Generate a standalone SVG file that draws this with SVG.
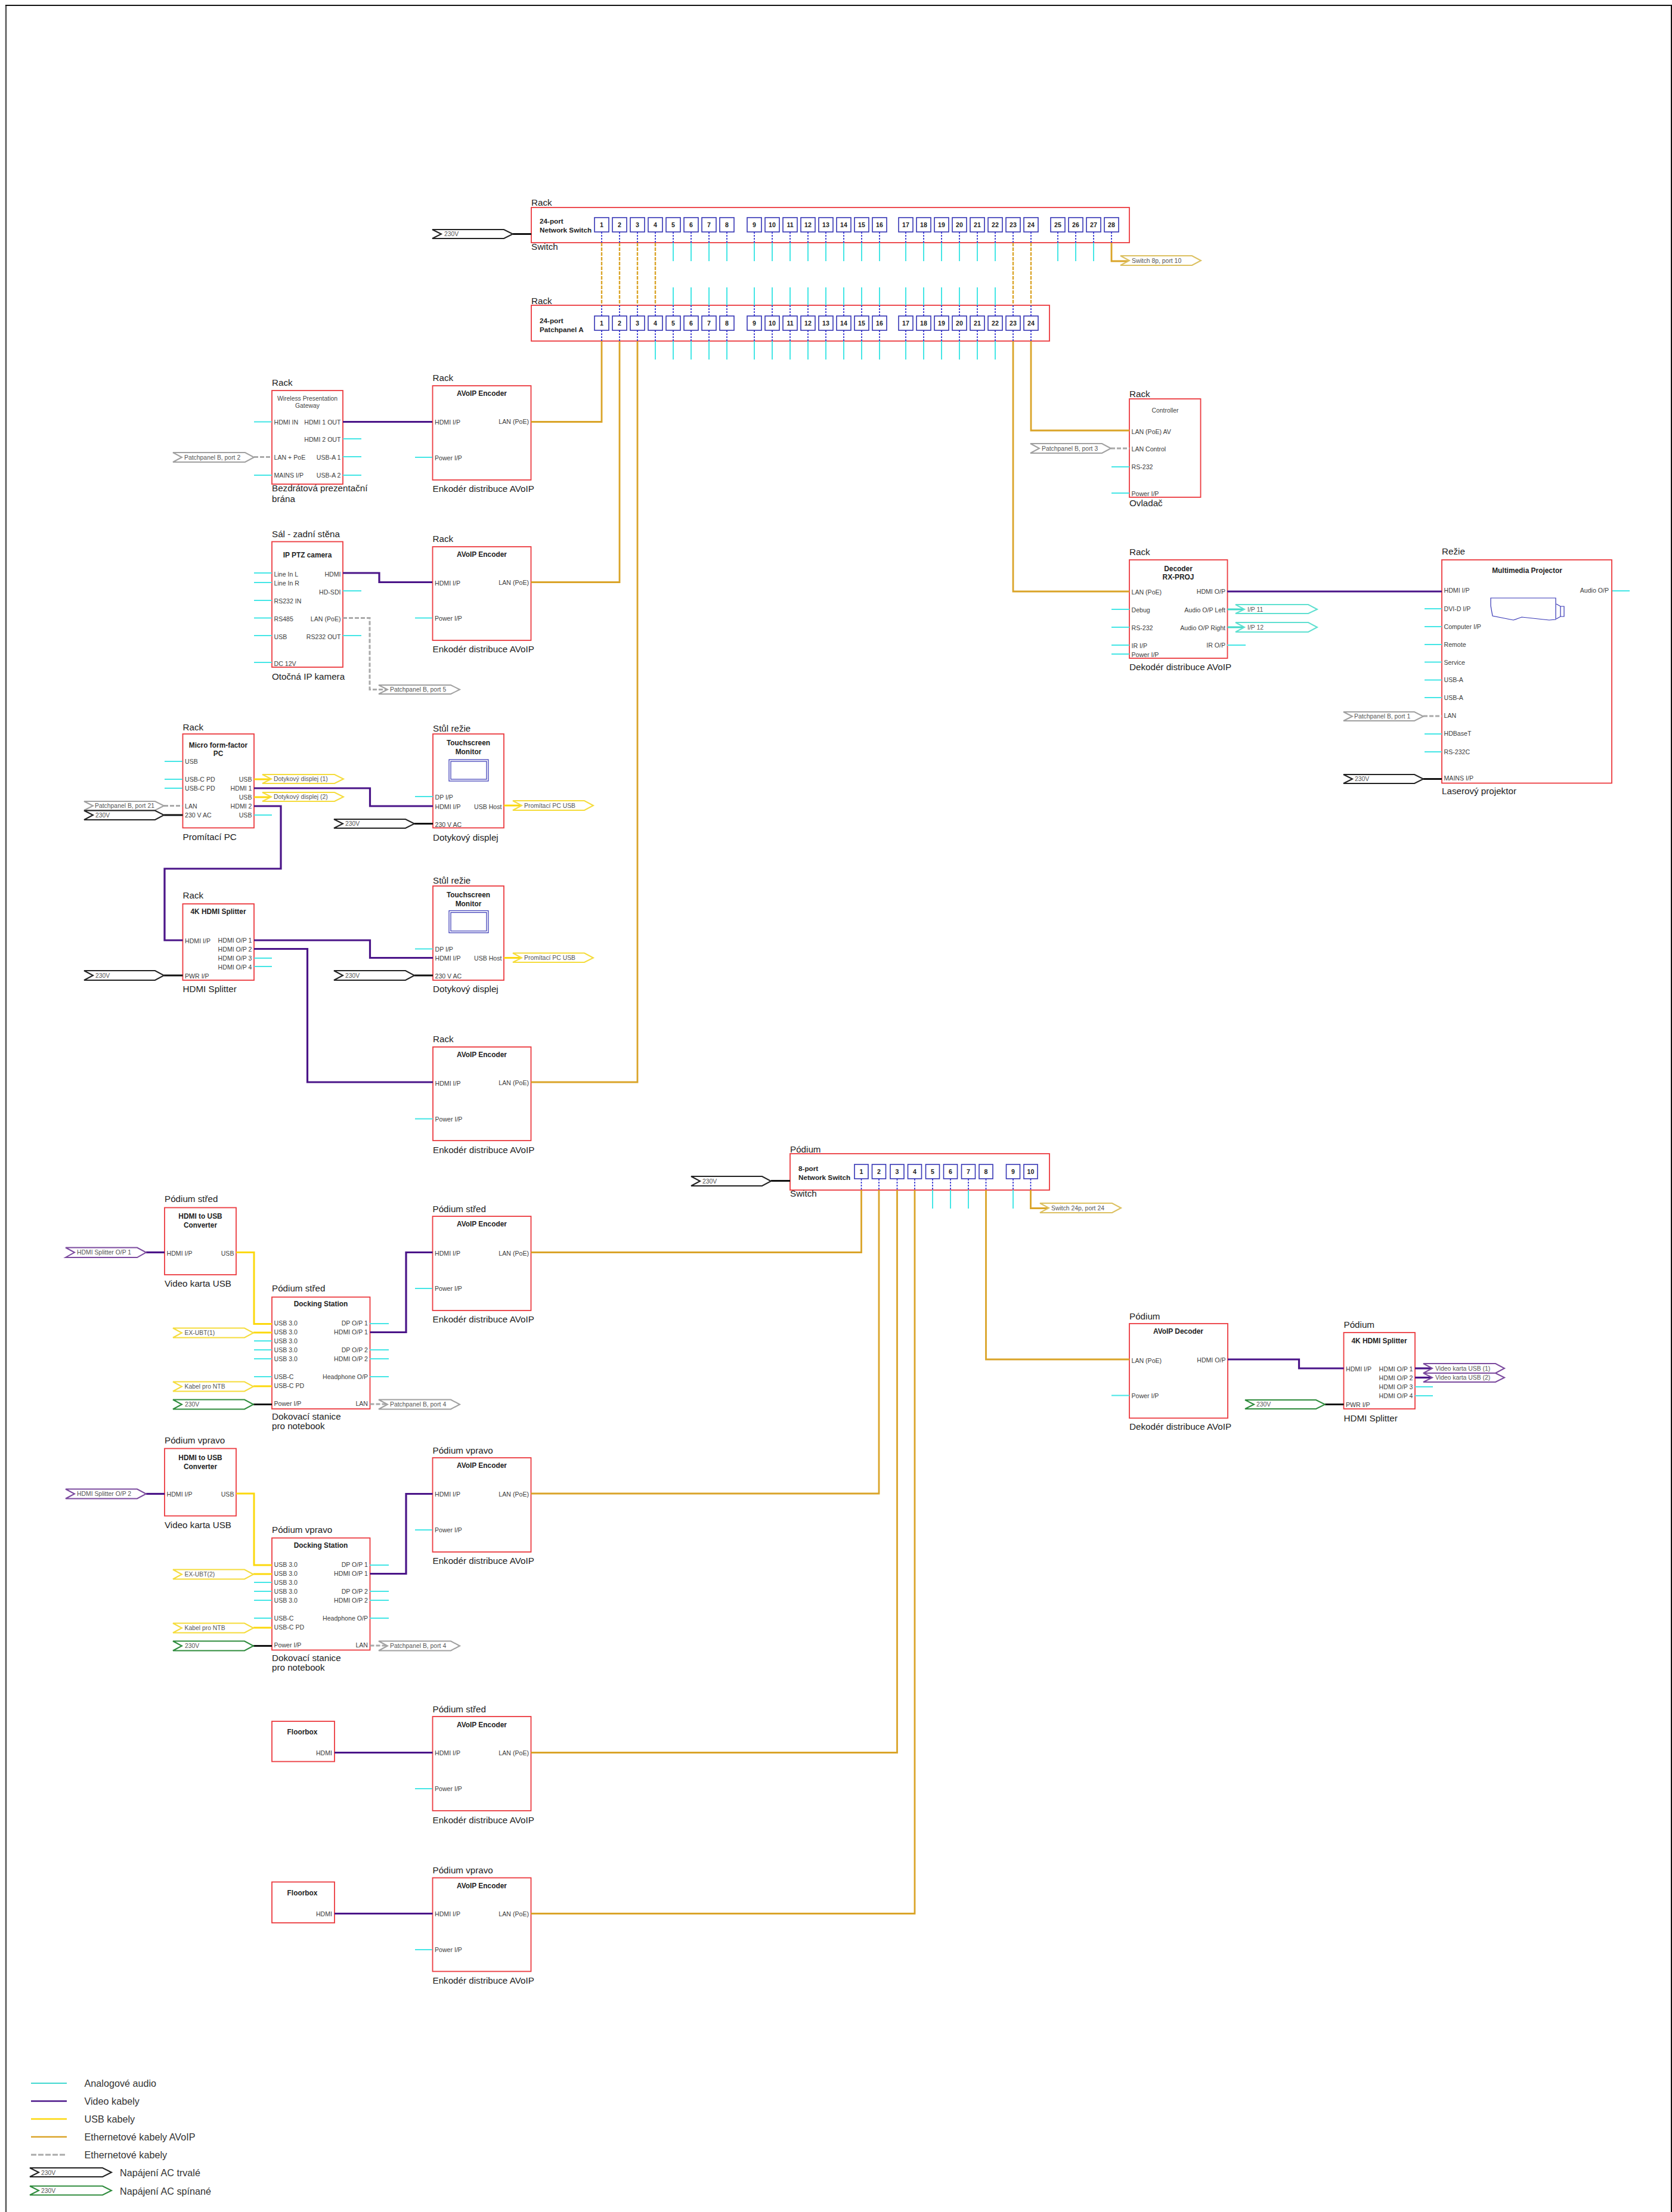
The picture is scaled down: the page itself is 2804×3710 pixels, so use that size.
<svg xmlns="http://www.w3.org/2000/svg" width="2804" height="3710" viewBox="0 0 2804 3710">
<style>
text{font-family:"Liberation Sans",Arial,sans-serif;dominant-baseline:central;fill:#3c3c3c;font-size:10.6px}
.e{text-anchor:end}
.lb{font-size:15.2px;fill:#222}
.lg{font-size:16.2px;fill:#333}
.t{font-size:11.9px;font-weight:bold;text-anchor:middle;fill:#222}
.tn{font-size:10.4px;text-anchor:middle;fill:#444}
.tl{font-size:11.7px;font-weight:bold;fill:#222}
.pn{font-size:10.6px;font-weight:bold;text-anchor:middle;fill:#222}
.pt{font-size:10.4px;fill:#555}
.b{fill:#fff;stroke:#ec3a3f;stroke-width:1.8}
.p{fill:#fff;stroke:#3535b5;stroke-width:1.6}
.ic{fill:none;stroke:#3535b5;stroke-width:1.2}
.pb{fill:#fff;stroke:#222;stroke-width:2}
.pg{fill:#fff;stroke:#2e8b3c;stroke-width:2}
.py{fill:#fff;stroke:#f5dc3c;stroke-width:2}
.pa{fill:#fff;stroke:#a0a0a0;stroke-width:2}
.pv{fill:#fff;stroke:#7b4a9e;stroke-width:2}
.po{fill:#fff;stroke:#dcc060;stroke-width:2}
.pc{fill:#fff;stroke:#5fe0d0;stroke-width:2}
path{fill:none}
.cy{stroke:#45e6e6;stroke-width:2}
.cyt{stroke:#40d8c8;stroke-width:3}
.vi{stroke:#4a1488;stroke-width:3.2}
.us{stroke:#fcd80c;stroke-width:3}
.or{stroke:#daa428;stroke-width:2.8}
.ord{stroke:#daa428;stroke-width:2.4;stroke-dasharray:6 2}
.gr{stroke:#aaa;stroke-width:3;stroke-dasharray:7 3}
.bk{stroke:#111;stroke-width:3}
.bd{stroke:#2222cc;stroke-width:1.6;stroke-dasharray:3 2}
</style>
<g id="frame">
<path d="M10 9V3710" stroke="#555" stroke-width="2.5"/>
<path d="M9 9H2803V3710" stroke="#111" stroke-width="2"/>
</g>

<g id="switch24">
<rect class="b" x="891" y="348" width="1003" height="59"/>
<text class="lb" x="891" y="339">Rack</text>
<text class="lb" x="891" y="413">Switch</text>
<text class="tl" x="905" y="370">24-port</text>
<text class="tl" x="905" y="385">Network Switch</text>
<rect class="p" x="997" y="365" width="24" height="24"/><text class="pn" x="1009" y="377">1</text>
<rect class="p" x="1027" y="365" width="24" height="24"/><text class="pn" x="1039" y="377">2</text>
<rect class="p" x="1057" y="365" width="24" height="24"/><text class="pn" x="1069" y="377">3</text>
<rect class="p" x="1087" y="365" width="24" height="24"/><text class="pn" x="1099" y="377">4</text>
<rect class="p" x="1117" y="365" width="24" height="24"/><text class="pn" x="1129" y="377">5</text>
<rect class="p" x="1147" y="365" width="24" height="24"/><text class="pn" x="1159" y="377">6</text>
<rect class="p" x="1177" y="365" width="24" height="24"/><text class="pn" x="1189" y="377">7</text>
<rect class="p" x="1207" y="365" width="24" height="24"/><text class="pn" x="1219" y="377">8</text>
<rect class="p" x="1253" y="365" width="24" height="24"/><text class="pn" x="1265" y="377">9</text>
<rect class="p" x="1283" y="365" width="24" height="24"/><text class="pn" x="1295" y="377">10</text>
<rect class="p" x="1313" y="365" width="24" height="24"/><text class="pn" x="1325" y="377">11</text>
<rect class="p" x="1343" y="365" width="24" height="24"/><text class="pn" x="1355" y="377">12</text>
<rect class="p" x="1373" y="365" width="24" height="24"/><text class="pn" x="1385" y="377">13</text>
<rect class="p" x="1403" y="365" width="24" height="24"/><text class="pn" x="1415" y="377">14</text>
<rect class="p" x="1433" y="365" width="24" height="24"/><text class="pn" x="1445" y="377">15</text>
<rect class="p" x="1463" y="365" width="24" height="24"/><text class="pn" x="1475" y="377">16</text>
<rect class="p" x="1507" y="365" width="24" height="24"/><text class="pn" x="1519" y="377">17</text>
<rect class="p" x="1537" y="365" width="24" height="24"/><text class="pn" x="1549" y="377">18</text>
<rect class="p" x="1567" y="365" width="24" height="24"/><text class="pn" x="1579" y="377">19</text>
<rect class="p" x="1597" y="365" width="24" height="24"/><text class="pn" x="1609" y="377">20</text>
<rect class="p" x="1627" y="365" width="24" height="24"/><text class="pn" x="1639" y="377">21</text>
<rect class="p" x="1657" y="365" width="24" height="24"/><text class="pn" x="1669" y="377">22</text>
<rect class="p" x="1687" y="365" width="24" height="24"/><text class="pn" x="1699" y="377">23</text>
<rect class="p" x="1717" y="365" width="24" height="24"/><text class="pn" x="1729" y="377">24</text>
<rect class="p" x="1762" y="365" width="24" height="24"/><text class="pn" x="1774" y="377">25</text>
<rect class="p" x="1792" y="365" width="24" height="24"/><text class="pn" x="1804" y="377">26</text>
<rect class="p" x="1822" y="365" width="24" height="24"/><text class="pn" x="1834" y="377">27</text>
<rect class="p" x="1852" y="365" width="24" height="24"/><text class="pn" x="1864" y="377">28</text>
</g>

<g id="patchpanelA">
<rect class="b" x="891" y="512" width="869" height="60"/>
<text class="lb" x="891" y="504">Rack</text>
<text class="tl" x="905" y="537">24-port</text>
<text class="tl" x="905" y="552">Patchpanel A</text>
<rect class="p" x="997" y="530" width="24" height="24"/><text class="pn" x="1009" y="542">1</text>
<rect class="p" x="1027" y="530" width="24" height="24"/><text class="pn" x="1039" y="542">2</text>
<rect class="p" x="1057" y="530" width="24" height="24"/><text class="pn" x="1069" y="542">3</text>
<rect class="p" x="1087" y="530" width="24" height="24"/><text class="pn" x="1099" y="542">4</text>
<rect class="p" x="1117" y="530" width="24" height="24"/><text class="pn" x="1129" y="542">5</text>
<rect class="p" x="1147" y="530" width="24" height="24"/><text class="pn" x="1159" y="542">6</text>
<rect class="p" x="1177" y="530" width="24" height="24"/><text class="pn" x="1189" y="542">7</text>
<rect class="p" x="1207" y="530" width="24" height="24"/><text class="pn" x="1219" y="542">8</text>
<rect class="p" x="1253" y="530" width="24" height="24"/><text class="pn" x="1265" y="542">9</text>
<rect class="p" x="1283" y="530" width="24" height="24"/><text class="pn" x="1295" y="542">10</text>
<rect class="p" x="1313" y="530" width="24" height="24"/><text class="pn" x="1325" y="542">11</text>
<rect class="p" x="1343" y="530" width="24" height="24"/><text class="pn" x="1355" y="542">12</text>
<rect class="p" x="1373" y="530" width="24" height="24"/><text class="pn" x="1385" y="542">13</text>
<rect class="p" x="1403" y="530" width="24" height="24"/><text class="pn" x="1415" y="542">14</text>
<rect class="p" x="1433" y="530" width="24" height="24"/><text class="pn" x="1445" y="542">15</text>
<rect class="p" x="1463" y="530" width="24" height="24"/><text class="pn" x="1475" y="542">16</text>
<rect class="p" x="1507" y="530" width="24" height="24"/><text class="pn" x="1519" y="542">17</text>
<rect class="p" x="1537" y="530" width="24" height="24"/><text class="pn" x="1549" y="542">18</text>
<rect class="p" x="1567" y="530" width="24" height="24"/><text class="pn" x="1579" y="542">19</text>
<rect class="p" x="1597" y="530" width="24" height="24"/><text class="pn" x="1609" y="542">20</text>
<rect class="p" x="1627" y="530" width="24" height="24"/><text class="pn" x="1639" y="542">21</text>
<rect class="p" x="1657" y="530" width="24" height="24"/><text class="pn" x="1669" y="542">22</text>
<rect class="p" x="1687" y="530" width="24" height="24"/><text class="pn" x="1699" y="542">23</text>
<rect class="p" x="1717" y="530" width="24" height="24"/><text class="pn" x="1729" y="542">24</text>
</g>

<g id="gateway">
<rect class="b" x="456" y="655" width="119" height="157"/>
<text class="lb" x="456" y="641">Rack</text>
<text class="tn" x="515.5" y="668">Wireless Presentation</text>
<text class="tn" x="515.5" y="680">Gateway</text>
<text x="459.5" y="708">HDMI IN</text>
<text x="459.5" y="767">LAN + PoE</text>
<text x="459.5" y="797">MAINS I/P</text>
<text class="e" x="571.5" y="708">HDMI 1 OUT</text>
<text class="e" x="571.5" y="737">HDMI 2 OUT</text>
<text class="e" x="571.5" y="767">USB-A 1</text>
<text class="e" x="571.5" y="797">USB-A 2</text>
<text class="lb" x="456" y="818">Bezdrátová prezentační</text>
<text class="lb" x="456" y="836">brána</text>
</g>

<g id="encoder1">
<rect class="b" x="725.5" y="647" width="165" height="158"/>
<text class="lb" x="725.5" y="633">Rack</text>
<text class="t" x="808" y="660">AVoIP Encoder</text>
<text x="729" y="708">HDMI I/P</text>
<text x="729" y="768">Power I/P</text>
<text class="e" x="887" y="707">LAN (PoE)</text>
<text class="lb" x="725.5" y="819">Enkodér distribuce AVoIP</text>
</g>

<g id="camera">
<rect class="b" x="456" y="908.5" width="119" height="210.5"/>
<text class="lb" x="456" y="895">Sál - zadní stěna</text>
<text class="t" x="515.5" y="931">IP PTZ camera</text>
<text x="459.5" y="963">Line In L</text>
<text x="459.5" y="978">Line In R</text>
<text x="459.5" y="1008">RS232 IN</text>
<text x="459.5" y="1038">RS485</text>
<text x="459.5" y="1068">USB</text>
<text x="459.5" y="1113">DC 12V</text>
<text class="e" x="571.5" y="963">HDMI</text>
<text class="e" x="571.5" y="993">HD-SDI</text>
<text class="e" x="571.5" y="1038">LAN (PoE)</text>
<text class="e" x="571.5" y="1068">RS232 OUT</text>
<text class="lb" x="456" y="1134">Otočná IP kamera</text>
</g>

<g id="encoder2">
<rect class="b" x="725.5" y="917" width="165" height="157"/>
<text class="lb" x="725.5" y="903">Rack</text>
<text class="t" x="808" y="930">AVoIP Encoder</text>
<text x="729" y="978">HDMI I/P</text>
<text x="729" y="1037">Power I/P</text>
<text class="e" x="887" y="977">LAN (PoE)</text>
<text class="lb" x="725.5" y="1088">Enkodér distribuce AVoIP</text>
</g>

<g id="pc">
<rect class="b" x="306.5" y="1231" width="119.5" height="157.5"/>
<text class="lb" x="306.5" y="1219">Rack</text>
<text class="t" x="366" y="1250">Micro form-factor</text>
<text class="t" x="366" y="1264">PC</text>
<text x="310" y="1277">USB</text>
<text x="310" y="1307">USB-C PD</text>
<text x="310" y="1322">USB-C PD</text>
<text x="310" y="1352">LAN</text>
<text x="310" y="1367">230 V AC</text>
<text class="e" x="422.5" y="1307">USB</text>
<text class="e" x="422.5" y="1322">HDMI 1</text>
<text class="e" x="422.5" y="1337">USB</text>
<text class="e" x="422.5" y="1352">HDMI 2</text>
<text class="e" x="422.5" y="1367">USB</text>
<text class="lb" x="306.5" y="1403">Promítací PC</text>
</g>

<g id="monitor1">
<rect class="b" x="726" y="1231" width="119" height="157.5"/>
<text class="lb" x="726" y="1221">Stůl režie</text>
<text class="t" x="785.5" y="1246">Touchscreen</text>
<text class="t" x="785.5" y="1261">Monitor</text>
<rect class="ic" x="753" y="1274" width="66" height="36"/>
<rect class="ic" x="756" y="1277" width="60" height="30"/>
<text x="729.5" y="1337">DP I/P</text>
<text x="729.5" y="1353">HDMI I/P</text>
<text x="729.5" y="1383">230 V AC</text>
<text class="e" x="841.5" y="1353">USB Host</text>
<text class="lb" x="726" y="1404">Dotykový displej</text>
</g>

<g id="splitter1">
<rect class="b" x="306.5" y="1516" width="119.5" height="128"/>
<text class="lb" x="306.5" y="1501">Rack</text>
<text class="t" x="366" y="1529">4K HDMI Splitter</text>
<text x="310" y="1578">HDMI I/P</text>
<text x="310" y="1637">PWR I/P</text>
<text class="e" x="422.5" y="1577">HDMI O/P 1</text>
<text class="e" x="422.5" y="1592">HDMI O/P 2</text>
<text class="e" x="422.5" y="1607">HDMI O/P 3</text>
<text class="e" x="422.5" y="1622">HDMI O/P 4</text>
<text class="lb" x="306.5" y="1658">HDMI Splitter</text>
</g>

<g id="monitor2">
<rect class="b" x="726" y="1486" width="119" height="158"/>
<text class="lb" x="726" y="1476">Stůl režie</text>
<text class="t" x="785.5" y="1500.5">Touchscreen</text>
<text class="t" x="785.5" y="1515.5">Monitor</text>
<rect class="ic" x="753" y="1527.5" width="66" height="37"/>
<rect class="ic" x="756" y="1530.5" width="60" height="31"/>
<text x="729.5" y="1592">DP I/P</text>
<text x="729.5" y="1607">HDMI I/P</text>
<text x="729.5" y="1637">230 V AC</text>
<text class="e" x="841.5" y="1607">USB Host</text>
<text class="lb" x="726" y="1658">Dotykový displej</text>
</g>

<g id="encoder3">
<rect class="b" x="726" y="1756" width="164.5" height="157"/>
<text class="lb" x="726" y="1742">Rack</text>
<text class="t" x="808" y="1769">AVoIP Encoder</text>
<text x="729.5" y="1817">HDMI I/P</text>
<text x="729.5" y="1877">Power I/P</text>
<text class="e" x="887" y="1816">LAN (PoE)</text>
<text class="lb" x="726" y="1928">Enkodér distribuce AVoIP</text>
</g>

<g id="controller">
<rect class="b" x="1894" y="669" width="119.5" height="165"/>
<text class="lb" x="1894" y="660">Rack</text>
<text class="tn" x="1954" y="688">Controller</text>
<text x="1897.5" y="724">LAN (PoE) AV</text>
<text x="1897.5" y="753">LAN Control</text>
<text x="1897.5" y="783">RS-232</text>
<text x="1897.5" y="828">Power I/P</text>
<text class="lb" x="1894" y="843">Ovladač</text>
</g>

<g id="decoder">
<rect class="b" x="1894" y="939" width="164.5" height="165"/>
<text class="lb" x="1894" y="925">Rack</text>
<text class="t" x="1976" y="954">Decoder</text>
<text class="t" x="1976" y="968">RX-PROJ</text>
<text x="1897.5" y="993">LAN (PoE)</text>
<text x="1897.5" y="1023">Debug</text>
<text x="1897.5" y="1053">RS-232</text>
<text x="1897.5" y="1083">IR I/P</text>
<text x="1897.5" y="1098">Power I/P</text>
<text class="e" x="2055" y="992">HDMI O/P</text>
<text class="e" x="2055" y="1023">Audio O/P Left</text>
<text class="e" x="2055" y="1053">Audio O/P Right</text>
<text class="e" x="2055" y="1082">IR O/P</text>
<text class="lb" x="1894" y="1118">Dekodér distribuce AVoIP</text>
</g>

<g id="projector">
<rect class="b" x="2418" y="939" width="285" height="374.5"/>
<text class="lb" x="2418" y="924">Režie</text>
<text class="t" x="2561" y="957">Multimedia Projector</text>
<path class="ic" d="M2500 1003H2609V1039L2598 1040L2552 1035L2538 1040L2503 1033L2500 1016Z"/>
<path class="ic" d="M2610 1013L2617 1017H2623V1034H2617L2610 1038M2617 1017V1034"/>
<text x="2421.5" y="990">HDMI I/P</text>
<text x="2421.5" y="1021">DVI-D I/P</text>
<text x="2421.5" y="1051">Computer I/P</text>
<text x="2421.5" y="1081">Remote</text>
<text x="2421.5" y="1111">Service</text>
<text x="2421.5" y="1140">USB-A</text>
<text x="2421.5" y="1170">USB-A</text>
<text x="2421.5" y="1200">LAN</text>
<text x="2421.5" y="1230">HDBaseT</text>
<text x="2421.5" y="1261">RS-232C</text>
<text x="2421.5" y="1305">MAINS I/P</text>
<text class="e" x="2698" y="990">Audio O/P</text>
<text class="lb" x="2418" y="1326">Laserový projektor</text>
</g>

<g id="switch8">
<rect class="b" x="1325" y="1935" width="435" height="61"/>
<text class="lb" x="1325" y="1927">Pódium</text>
<text class="lb" x="1325" y="2001">Switch</text>
<text class="tl" x="1339" y="1959">8-port</text>
<text class="tl" x="1339" y="1974">Network Switch</text>
<rect class="p" x="1433" y="1953" width="23" height="24"/><text class="pn" x="1444.5" y="1965">1</text>
<rect class="p" x="1462.5" y="1953" width="23" height="24"/><text class="pn" x="1474" y="1965">2</text>
<rect class="p" x="1493" y="1953" width="23" height="24"/><text class="pn" x="1504.5" y="1965">3</text>
<rect class="p" x="1522.5" y="1953" width="23" height="24"/><text class="pn" x="1534" y="1965">4</text>
<rect class="p" x="1552.5" y="1953" width="23" height="24"/><text class="pn" x="1564" y="1965">5</text>
<rect class="p" x="1582.5" y="1953" width="23" height="24"/><text class="pn" x="1594" y="1965">6</text>
<rect class="p" x="1612.5" y="1953" width="23" height="24"/><text class="pn" x="1624" y="1965">7</text>
<rect class="p" x="1642" y="1953" width="23" height="24"/><text class="pn" x="1653.5" y="1965">8</text>
<rect class="p" x="1687.5" y="1953" width="23" height="24"/><text class="pn" x="1699" y="1965">9</text>
<rect class="p" x="1717" y="1953" width="23" height="24"/><text class="pn" x="1728.5" y="1965">10</text>
</g>

<g id="decoderPodium">
<rect class="b" x="1894" y="2220" width="165" height="158.5"/>
<text class="lb" x="1894" y="2207">Pódium</text>
<text class="t" x="1976" y="2233">AVoIP Decoder</text>
<text x="1897.5" y="2282">LAN (PoE)</text>
<text x="1897.5" y="2341">Power I/P</text>
<text class="e" x="2055.5" y="2281">HDMI O/P</text>
<text class="lb" x="1894" y="2392">Dekodér distribuce AVoIP</text>
</g>

<g id="splitterPodium">
<rect class="b" x="2253.5" y="2235" width="119.5" height="128"/>
<text class="lb" x="2253.5" y="2221">Pódium</text>
<text class="t" x="2313" y="2249">4K HDMI Splitter</text>
<text x="2257" y="2296">HDMI I/P</text>
<text x="2257" y="2356">PWR I/P</text>
<text class="e" x="2369.5" y="2296">HDMI O/P 1</text>
<text class="e" x="2369.5" y="2311">HDMI O/P 2</text>
<text class="e" x="2369.5" y="2326">HDMI O/P 3</text>
<text class="e" x="2369.5" y="2341">HDMI O/P 4</text>
<text class="lb" x="2253.5" y="2378">HDMI Splitter</text>
</g>

<g id="converter1">
<rect class="b" x="276" y="2025.5" width="120" height="112.5"/>
<text class="lb" x="276" y="2010">Pódium střed</text>
<text class="t" x="336" y="2040">HDMI to USB</text>
<text class="t" x="336" y="2055">Converter</text>
<text x="279.5" y="2102">HDMI I/P</text>
<text class="e" x="392.5" y="2102">USB</text>
<text class="lb" x="276" y="2152">Video karta USB</text>
</g>

<g id="dock1">
<rect class="b" x="456" y="2175.5" width="164.5" height="187.5"/>
<text class="lb" x="456" y="2160">Pódium střed</text>
<text class="t" x="538" y="2187">Docking Station</text>
<text x="459.5" y="2219">USB 3.0</text>
<text x="459.5" y="2234">USB 3.0</text>
<text x="459.5" y="2249">USB 3.0</text>
<text x="459.5" y="2264">USB 3.0</text>
<text x="459.5" y="2279">USB 3.0</text>
<text x="459.5" y="2309">USB-C</text>
<text x="459.5" y="2324">USB-C PD</text>
<text x="459.5" y="2354">Power I/P</text>
<text class="e" x="617" y="2219">DP O/P 1</text>
<text class="e" x="617" y="2234">HDMI O/P 1</text>
<text class="e" x="617" y="2264">DP O/P 2</text>
<text class="e" x="617" y="2279">HDMI O/P 2</text>
<text class="e" x="617" y="2309">Headphone O/P</text>
<text class="e" x="617" y="2354">LAN</text>
<text class="lb" x="456" y="2375">Dokovací stanice</text>
<text class="lb" x="456" y="2391">pro notebook</text>
</g>

<g id="encoder4">
<rect class="b" x="725.5" y="2040" width="165" height="158"/>
<text class="lb" x="725.5" y="2027">Pódium střed</text>
<text class="t" x="808" y="2053">AVoIP Encoder</text>
<text x="729" y="2102">HDMI I/P</text>
<text x="729" y="2161">Power I/P</text>
<text class="e" x="887" y="2102">LAN (PoE)</text>
<text class="lb" x="725.5" y="2212">Enkodér distribuce AVoIP</text>
</g>

<g id="converter2">
<rect class="b" x="276" y="2429.5" width="120" height="113"/>
<text class="lb" x="276" y="2415">Pódium vpravo</text>
<text class="t" x="336" y="2445">HDMI to USB</text>
<text class="t" x="336" y="2460">Converter</text>
<text x="279.5" y="2506">HDMI I/P</text>
<text class="e" x="392.5" y="2506">USB</text>
<text class="lb" x="276" y="2557">Video karta USB</text>
</g>

<g id="dock2">
<rect class="b" x="456" y="2579.5" width="164.5" height="188"/>
<text class="lb" x="456" y="2565">Pódium vpravo</text>
<text class="t" x="538" y="2592">Docking Station</text>
<text x="459.5" y="2624">USB 3.0</text>
<text x="459.5" y="2639">USB 3.0</text>
<text x="459.5" y="2654">USB 3.0</text>
<text x="459.5" y="2669">USB 3.0</text>
<text x="459.5" y="2684">USB 3.0</text>
<text x="459.5" y="2714">USB-C</text>
<text x="459.5" y="2729">USB-C PD</text>
<text x="459.5" y="2759">Power I/P</text>
<text class="e" x="617" y="2624">DP O/P 1</text>
<text class="e" x="617" y="2639">HDMI O/P 1</text>
<text class="e" x="617" y="2669">DP O/P 2</text>
<text class="e" x="617" y="2684">HDMI O/P 2</text>
<text class="e" x="617" y="2714">Headphone O/P</text>
<text class="e" x="617" y="2759">LAN</text>
<text class="lb" x="456" y="2780">Dokovací stanice</text>
<text class="lb" x="456" y="2796">pro notebook</text>
</g>

<g id="encoder5">
<rect class="b" x="725.5" y="2445" width="165" height="158"/>
<text class="lb" x="725.5" y="2432">Pódium vpravo</text>
<text class="t" x="808" y="2458">AVoIP Encoder</text>
<text x="729" y="2506">HDMI I/P</text>
<text x="729" y="2566">Power I/P</text>
<text class="e" x="887" y="2506">LAN (PoE)</text>
<text class="lb" x="725.5" y="2617">Enkodér distribuce AVoIP</text>
</g>

<g id="floorbox1">
<rect class="b" x="456" y="2887" width="105" height="67.5"/>
<text class="t" x="507" y="2905">Floorbox</text>
<text class="e" x="557" y="2940">HDMI</text>
</g>

<g id="encoder6">
<rect class="b" x="725.5" y="2879" width="165" height="158"/>
<text class="lb" x="725.5" y="2866">Pódium střed</text>
<text class="t" x="808" y="2893">AVoIP Encoder</text>
<text x="729" y="2940">HDMI I/P</text>
<text x="729" y="3000">Power I/P</text>
<text class="e" x="887" y="2940">LAN (PoE)</text>
<text class="lb" x="725.5" y="3052">Enkodér distribuce AVoIP</text>
</g>

<g id="floorbox2">
<rect class="b" x="456" y="3156.5" width="105" height="68.5"/>
<text class="t" x="507" y="3175">Floorbox</text>
<text class="e" x="557" y="3210">HDMI</text>
</g>

<g id="encoder7">
<rect class="b" x="725.5" y="3149.5" width="165" height="157"/>
<text class="lb" x="725.5" y="3136">Pódium vpravo</text>
<text class="t" x="808" y="3163">AVoIP Encoder</text>
<text x="729" y="3210">HDMI I/P</text>
<text x="729" y="3270">Power I/P</text>
<text class="e" x="887" y="3210">LAN (PoE)</text>
<text class="lb" x="725.5" y="3321">Enkodér distribuce AVoIP</text>
</g>

<g id="connectors">
<path class="bd" d="M1009 389V407M1039 389V407M1069 389V407M1099 389V407M1129 389V407M1159 389V407M1189 389V407M1219 389V407M1265 389V407M1295 389V407M1325 389V407M1355 389V407M1385 389V407M1415 389V407M1445 389V407M1475 389V407M1519 389V407M1549 389V407M1579 389V407M1609 389V407M1639 389V407M1669 389V407M1699 389V407M1729 389V407M1774 389V407M1804 389V407M1834 389V407M1864 389V407"/>
<path class="bd" d="M1009 512V530M1039 512V530M1069 512V530M1099 512V530M1129 512V530M1159 512V530M1189 512V530M1219 512V530M1265 512V530M1295 512V530M1325 512V530M1355 512V530M1385 512V530M1415 512V530M1445 512V530M1475 512V530M1519 512V530M1549 512V530M1579 512V530M1609 512V530M1639 512V530M1669 512V530M1699 512V530M1729 512V530"/>
<path class="bd" d="M1009 554V572M1039 554V572M1069 554V572M1099 554V572M1129 554V572M1159 554V572M1189 554V572M1219 554V572M1265 554V572M1295 554V572M1325 554V572M1355 554V572M1385 554V572M1415 554V572M1445 554V572M1475 554V572M1519 554V572M1549 554V572M1579 554V572M1609 554V572M1639 554V572M1669 554V572M1699 554V572M1729 554V572"/>
<path class="bd" d="M1444.5 1977V1996M1474 1977V1996M1504.5 1977V1996M1534 1977V1996M1564 1977V1996M1594 1977V1996M1624 1977V1996M1653.5 1977V1996M1699 1977V1996M1728.5 1977V1996"/>
<path class="cy" d="M1129 407V438M1159 407V438M1189 407V438M1219 407V438M1265 407V438M1295 407V438M1325 407V438M1355 407V438M1385 407V438M1415 407V438M1445 407V438M1475 407V438M1519 407V438M1549 407V438M1579 407V438M1609 407V438M1639 407V438M1669 407V438M1774 407V438M1804 407V438M1834 407V438"/>
<path class="cy" d="M1129 482V512M1159 482V512M1189 482V512M1219 482V512M1265 482V512M1295 482V512M1325 482V512M1355 482V512M1385 482V512M1415 482V512M1445 482V512M1475 482V512M1519 482V512M1549 482V512M1579 482V512M1609 482V512M1639 482V512M1669 482V512"/>
<path class="cy" d="M1099 572V603M1129 572V603M1159 572V603M1189 572V603M1219 572V603M1265 572V603M1295 572V603M1325 572V603M1355 572V603M1385 572V603M1415 572V603M1445 572V603M1475 572V603M1519 572V603M1549 572V603M1579 572V603M1609 572V603M1639 572V603M1669 572V603"/>
<path class="cy" d="M1564 1996V2027M1594 1996V2027M1624 1996V2027M1699 1996V2027"/>
<path class="ord" d="M1009 407V512M1039 407V512M1069 407V512M1099 407V512M1699 407V512M1729 407V512"/>
<path class="cy" d="M426 707.5H456M426 797H456M575 736H606M575 766H606M575 797H606M696 767H725"/>
<path class="cy" d="M426 961H456M426 977H456M426 1007H456M426 1036.5H456M426 1066H456M426 1111H456M575 991H606M575 1066H606M696 1036.5H725"/>
<path class="cy" d="M276 1277H306M276 1307H306M276 1322H306M426 1367H456M696 1336H726M426 1607H456M426 1621H456M696 1591.5H726M696 1876.5H726"/>
<path class="cy" d="M1864 783H1894M1864 827H1894M1864 1022H1894M1864 1052H1894M1864 1082H1894M1864 1097H1894M2058 1082H2089"/>
<path class="cy" d="M2389 1021H2418M2389 1051H2418M2389 1081H2418M2389 1110.5H2418M2389 1140.5H2418M2389 1170H2418M2389 1231H2418M2389 1261H2418M2704 991H2733"/>
<path class="cy" d="M1864 2340.5H1894M2373 2326H2403M2373 2341H2403"/>
<path class="cy" d="M426 2249H456M426 2264H456M426 2279H456M426 2309H456M620 2220H652M620 2264H652M620 2279H652M620 2309H652M696 2161H725"/>
<path class="cy" d="M426 2654H456M426 2669H456M426 2684H456M426 2714H456M620 2625H652M620 2669H652M620 2684H652M620 2714H652M696 2566H725"/>
<path class="cy" d="M696 3000H725M696 3270H725"/>
<path class="vi" d="M575 707.5H725"/>
<path class="vi" d="M575 961H636V976.5H725"/>
<path class="vi" d="M426 1322H620.5V1352H726"/>
<path class="vi" d="M426 1352H471V1457H276V1577H306.5"/>
<path class="vi" d="M426 1577H620.5V1606.5H726"/>
<path class="vi" d="M426 1591.5H515.5V1815H726"/>
<path class="vi" d="M2058 992H2418"/>
<path class="vi" d="M2059 2280H2178.5V2295H2253.5"/>
<path class="vi" d="M2373 2295H2402"/>
<path class="vi" d="M2373 2310.5H2402"/>
<path class="vi" d="M245 2100.5H276"/>
<path class="vi" d="M620.5 2234.5H681V2100.5H725.5"/>
<path class="vi" d="M245 2505.5H276"/>
<path class="vi" d="M620.5 2639.5H681V2505.5H725.5"/>
<path class="vi" d="M561 2939.5H725.5"/>
<path class="vi" d="M561 3209.5H725.5"/>
<path class="us" d="M426 1307H455"/>
<path class="us" d="M426 1337H455"/>
<path class="us" d="M845 1351H875"/>
<path class="us" d="M845 1606.5H875"/>
<path class="us" d="M396 2100.5H426V2220.5H456"/>
<path class="us" d="M425 2235H456"/>
<path class="us" d="M425 2325H456"/>
<path class="us" d="M396 2505H426V2625H456"/>
<path class="us" d="M425 2640H456"/>
<path class="us" d="M425 2730H456"/>
<path class="or" d="M890.5 707.5H1009V572"/>
<path class="or" d="M890.5 976.5H1039V572"/>
<path class="or" d="M890.5 1815H1069V572"/>
<path class="or" d="M1729 572V722H1894"/>
<path class="or" d="M1699 572V992H1894"/>
<path class="or" d="M1864 407V438H1894"/>
<path class="or" d="M1728.5 1996V2026.5H1759"/>
<path class="or" d="M890.5 2100.5H1444.5V1996"/>
<path class="or" d="M890.5 2505H1474V1996"/>
<path class="or" d="M890.5 2939.5H1504.5V1996"/>
<path class="or" d="M890.5 3209.5H1534V1996"/>
<path class="or" d="M1653.5 1996V2280H1894"/>
<path class="gr" d="M426 766.5H456"/>
<path class="gr" d="M575 1036.5H620V1156.5H650"/>
<path class="gr" d="M275 1351.5H306.5"/>
<path class="gr" d="M1863 752H1894"/>
<path class="gr" d="M2387 1201H2418"/>
<path class="gr" d="M620.5 2355H650"/>
<path class="gr" d="M620.5 2760H650"/>
<path class="bk" d="M860 392.5H891"/>
<path class="bk" d="M275 1367H306.5"/>
<path class="bk" d="M695 1381.5H726"/>
<path class="bk" d="M275 1636H306.5"/>
<path class="bk" d="M695 1636H726"/>
<path class="bk" d="M2387 1306.5H2418"/>
<path class="bk" d="M1293 1980.5H1325"/>
<path class="bk" d="M2222 2355.5H2253.5"/>
<path class="bk" d="M425 2355.5H456"/>
<path class="bk" d="M425 2760.5H456"/>
<path class="cyt" d="M2058.5 1022H2087"/>
<path class="cyt" d="M2058.5 1052H2087"/>
</g>

<g id="offpage">
<polygon class="pb" points="725,385 845,385 860,392.5 845,400 725,400 740,392.5"/><text class="pt" x="745" y="392.5">230V</text>
<polygon class="po" points="1879,429 1999,429 2014,437 1999,445 1879,445 1894,437"/><text class="pt" x="1898" y="437">Switch 8p, port 10</text>
<polygon class="pa" points="290,759 411,759 426,767 411,775 290,775 305,767"/><text class="pt" x="309" y="767">Patchpanel B, port 2</text>
<polygon class="pa" points="635,1149 756,1149 771,1156.5 756,1164 635,1164 650,1156.5"/><text class="pt" x="654" y="1156.5">Patchpanel B, port 5</text>
<polygon class="py" points="440,1299 561,1299 576,1306.5 561,1314 440,1314 455,1306.5"/><text class="pt" x="459" y="1306.5">Dotykový displej (1)</text>
<polygon class="py" points="440,1329 561,1329 576,1336.5 561,1344 440,1344 455,1336.5"/><text class="pt" x="459" y="1336.5">Dotykový displej (2)</text>
<polygon class="pa" points="141,1344 260,1344 275,1351.5 260,1359 141,1359 156,1351.5"/><text class="pt" x="159" y="1351.5">Patchpanel B, port 21</text>
<polygon class="pb" points="141,1359.5 260,1359.5 275,1367 260,1375 141,1375 156,1367"/><text class="pt" x="160" y="1367">230V</text>
<polygon class="pb" points="560,1374 680,1374 695,1381.5 680,1389 560,1389 575,1381.5"/><text class="pt" x="579" y="1381.5">230V</text>
<polygon class="py" points="860,1343 980,1343 995,1351 980,1359 860,1359 875,1351"/><text class="pt" x="879" y="1351">Promítací PC USB</text>
<polygon class="pb" points="141,1628 260,1628 275,1636 260,1644 141,1644 156,1636"/><text class="pt" x="160" y="1636">230V</text>
<polygon class="pb" points="560,1628 680,1628 695,1636 680,1644 560,1644 575,1636"/><text class="pt" x="579" y="1636">230V</text>
<polygon class="py" points="860,1598.5 980,1598.5 995,1606.5 980,1614 860,1614 875,1606.5"/><text class="pt" x="879" y="1606.5">Promítací PC USB</text>
<polygon class="pa" points="1728,744 1848,744 1863,752 1848,760 1728,760 1743,752"/><text class="pt" x="1747" y="752">Patchpanel B, port 3</text>
<polygon class="pc" points="2072,1014 2194,1014 2209,1022 2194,1029 2072,1029 2087,1022"/><text class="pt" x="2092" y="1022">I/P 11</text>
<polygon class="pc" points="2072,1044 2194,1044 2209,1052 2194,1060 2072,1060 2087,1052"/><text class="pt" x="2092" y="1052">I/P 12</text>
<polygon class="pa" points="2253,1194 2372,1194 2387,1201.5 2372,1209 2253,1209 2268,1201.5"/><text class="pt" x="2271" y="1201.5">Patchpanel B, port 1</text>
<polygon class="pb" points="2253,1299 2372,1299 2387,1306.5 2372,1314 2253,1314 2268,1306.5"/><text class="pt" x="2272" y="1306.5">230V</text>
<polygon class="pb" points="1159,1973 1278,1973 1293,1981 1278,1989 1159,1989 1174,1981"/><text class="pt" x="1178" y="1981">230V</text>
<polygon class="po" points="1744,2018 1865,2018 1880,2026 1865,2034 1744,2034 1759,2026"/><text class="pt" x="1763" y="2026">Switch 24p, port 24</text>
<polygon class="pv" points="2387,2287 2508,2287 2523,2295 2508,2303 2387,2303 2402,2295"/><text class="pt" x="2407" y="2295">Video karta USB (1)</text>
<polygon class="pv" points="2387,2303 2508,2303 2523,2310.5 2508,2318 2387,2318 2402,2310.5"/><text class="pt" x="2407" y="2310.5">Video karta USB (2)</text>
<polygon class="pg" points="2088,2348 2207,2348 2222,2355.5 2207,2363 2088,2363 2103,2355.5"/><text class="pt" x="2107" y="2355.5">230V</text>
<polygon class="pv" points="110,2092.5 230,2092.5 245,2100.5 230,2109 110,2109 125,2100.5"/><text class="pt" x="129" y="2100.5">HDMI Splitter O/P 1</text>
<polygon class="py" points="290,2227.5 410,2227.5 425,2235.5 410,2243.5 290,2243.5 305,2235.5"/><text class="pt" x="309.5" y="2235.5">EX-UBT(1)</text>
<polygon class="py" points="290,2317.5 410,2317.5 425,2325.5 410,2333.5 290,2333.5 305,2325.5"/><text class="pt" x="309.5" y="2325.5">Kabel pro NTB</text>
<polygon class="pg" points="290,2347.5 410,2347.5 425,2355.5 410,2363.5 290,2363.5 305,2355.5"/><text class="pt" x="310" y="2355.5">230V</text>
<polygon class="pa" points="635,2347.5 756,2347.5 771,2355.5 756,2363.5 635,2363.5 650,2355.5"/><text class="pt" x="654" y="2355.5">Patchpanel B, port 4</text>
<polygon class="pv" points="110,2497.5 230,2497.5 245,2505.5 230,2513.5 110,2513.5 125,2505.5"/><text class="pt" x="129" y="2505.5">HDMI Splitter O/P 2</text>
<polygon class="py" points="290,2632.5 410,2632.5 425,2640.5 410,2648.5 290,2648.5 305,2640.5"/><text class="pt" x="309.5" y="2640.5">EX-UBT(2)</text>
<polygon class="py" points="290,2722.5 410,2722.5 425,2730.5 410,2738.5 290,2738.5 305,2730.5"/><text class="pt" x="309.5" y="2730.5">Kabel pro NTB</text>
<polygon class="pg" points="290,2752.5 410,2752.5 425,2760.5 410,2768.5 290,2768.5 305,2760.5"/><text class="pt" x="310" y="2760.5">230V</text>
<polygon class="pa" points="635,2752.5 756,2752.5 771,2760.5 756,2768.5 635,2768.5 650,2760.5"/><text class="pt" x="654" y="2760.5">Patchpanel B, port 4</text>
</g>

<g id="legend">
<path class="cy" d="M52 3494H112" style="stroke:#40d8d0"/><text class="lg" x="141.5" y="3494">Analogové audio</text>
<path class="vi" d="M52 3524H112" style="stroke-width:2.5"/><text class="lg" x="141.5" y="3524">Video kabely</text>
<path class="us" d="M52 3554H112" style="stroke-width:2.5"/><text class="lg" x="141.5" y="3554">USB kabely</text>
<path class="or" d="M52 3584H112" style="stroke-width:2.5"/><text class="lg" x="141.5" y="3584">Ethernetové kabely AVoIP</text>
<path class="gr" d="M52 3614H112" style="stroke-dasharray:9 3"/><text class="lg" x="141.5" y="3614">Ethernetové kabely</text>
<polygon class="pb" points="50,3636 172,3636 187,3643.5 172,3651 50,3651 65,3643.5"/><text class="pt" x="69" y="3644">230V</text>
<text class="lg" x="201" y="3644">Napájení AC trvalé</text>
<polygon class="pg" points="50,3666.5 172,3666.5 187,3674 172,3681.5 50,3681.5 65,3674"/><text class="pt" x="69" y="3674.5">230V</text>
<text class="lg" x="201" y="3674.5">Napájení AC spínané</text>
</g>
</svg>
